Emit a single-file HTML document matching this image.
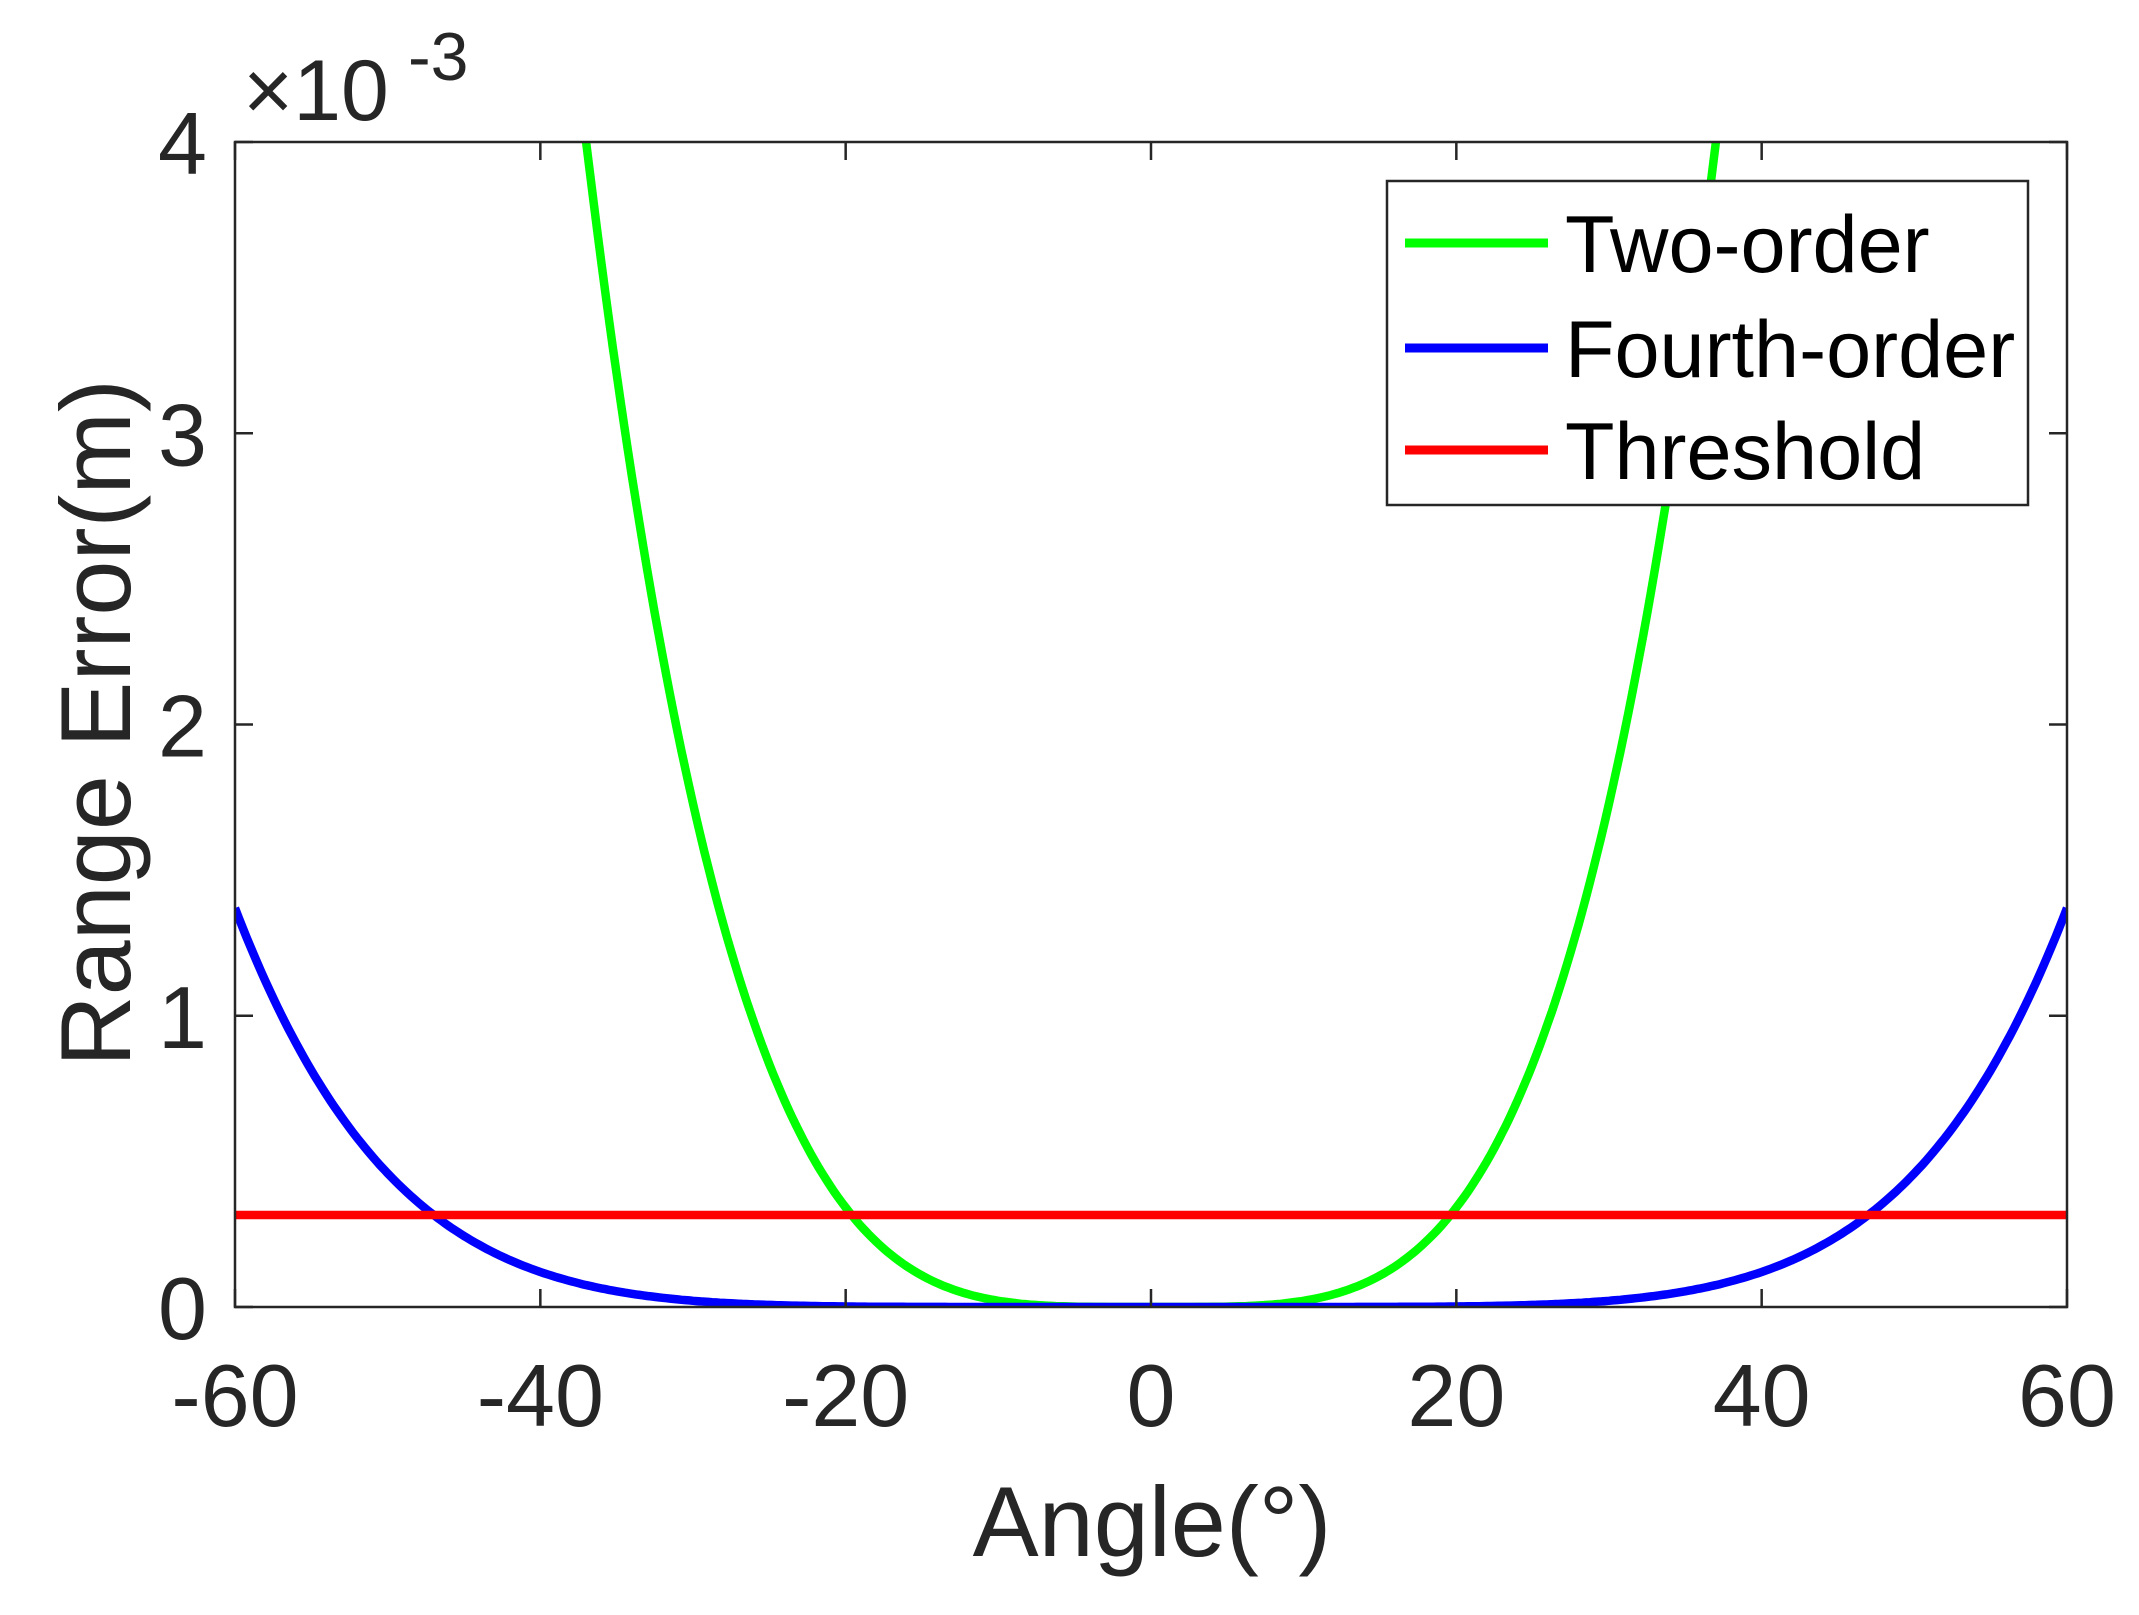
<!DOCTYPE html>
<html><head><meta charset="utf-8"><style>
html,body{margin:0;padding:0;background:#fff;}
svg{display:block;}
text{font-family:"Liberation Sans",Arial,sans-serif;fill:#262626;}
</style></head><body>
<svg id="s" width="2139" height="1615" viewBox="0 0 2139 1615" xmlns="http://www.w3.org/2000/svg">
<rect width="2139" height="1615" fill="#fff"/>
<defs><clipPath id="c"><rect x="235" y="142" width="1832" height="1165"/></clipPath></defs>
<g id="curves" clip-path="url(#c)"></g>
<rect x="235" y="142" width="1832" height="1165" fill="none" stroke="#262626" stroke-width="2.5"/>
<g id="ticks" stroke="#262626" stroke-width="2.5"></g>
<g font-size="88" text-anchor="middle" id="xl"></g>
<g font-size="88" text-anchor="end" id="yl"></g>
<text x="243" y="120" font-size="86">×10</text>
<text x="408" y="80" font-size="68">-3</text>
<text x="1152" y="1556" font-size="99" text-anchor="middle">Angle(°)</text>
<text transform="translate(130,723) rotate(-90)" font-size="99" text-anchor="middle">Range Error(m)</text>
<rect x="1387" y="181" width="641" height="324" fill="#fff" stroke="#262626" stroke-width="2.5"/>
<line x1="1405" y1="243" x2="1548" y2="243" stroke="#00ff00" stroke-width="9"/>
<line x1="1405" y1="348" x2="1548" y2="348" stroke="#0000ff" stroke-width="9"/>
<line x1="1405" y1="450" x2="1548" y2="450" stroke="#ff0000" stroke-width="9"/>
<g font-size="81">
<text x="1565" y="272" style="fill:#000">Two-order</text>
<text x="1565" y="377" style="fill:#000">Fourth-order</text>
<text x="1565" y="479" style="fill:#000">Threshold</text>
</g>
</svg>
<script>
var L=235,T=142,R=2067,B=1307;
function X(a){return L+(a+60)/120*(R-L);}
function Y(v){return B-v/4*(B-T);}
var ns="http://www.w3.org/2000/svg";
function path(f,col){var d="";for(var a=-60;a<=60.001;a+=0.25){d+=(d?"L":"M")+X(a).toFixed(1)+","+Y(f(a)).toFixed(1);}
var p=document.createElementNS(ns,"path");p.setAttribute("d",d);p.setAttribute("fill","none");p.setAttribute("stroke",col);p.setAttribute("stroke-width","8.5");document.getElementById("curves").appendChild(p);}
var th=document.createElementNS(ns,"line");th.setAttribute("x1",L);th.setAttribute("x2",R);th.setAttribute("y1",Y(0.316));th.setAttribute("y2",Y(0.316));th.setAttribute("stroke","#ff0000");th.setAttribute("stroke-width","8.5");
path(function(a){return 4*Math.pow(Math.abs(a)/37,4);},"#00ff00");
path(function(a){return 1.37*Math.pow(Math.abs(a)/60,6);},"#0000ff");
document.getElementById("curves").appendChild(th);
var tk=document.getElementById("ticks"),xl=document.getElementById("xl"),yl=document.getElementById("yl");
function ln(x1,y1,x2,y2){var l=document.createElementNS(ns,"line");l.setAttribute("x1",x1);l.setAttribute("y1",y1);l.setAttribute("x2",x2);l.setAttribute("y2",y2);tk.appendChild(l);}
function tx(g,x,y,s){var t=document.createElementNS(ns,"text");t.setAttribute("x",x);t.setAttribute("y",y);t.textContent=s;g.appendChild(t);}
for(var a=-60;a<=60;a+=20){var x=X(a);ln(x,B,x,B-18);ln(x,T,x,T+18);tx(xl,x,1426,String(a));}
for(var v=0;v<=4;v++){var y=Y(v);ln(L,y,L+18,y);ln(R,y,R-18,y);tx(yl,207,y+32,String(v));}
</script>
</body></html>
